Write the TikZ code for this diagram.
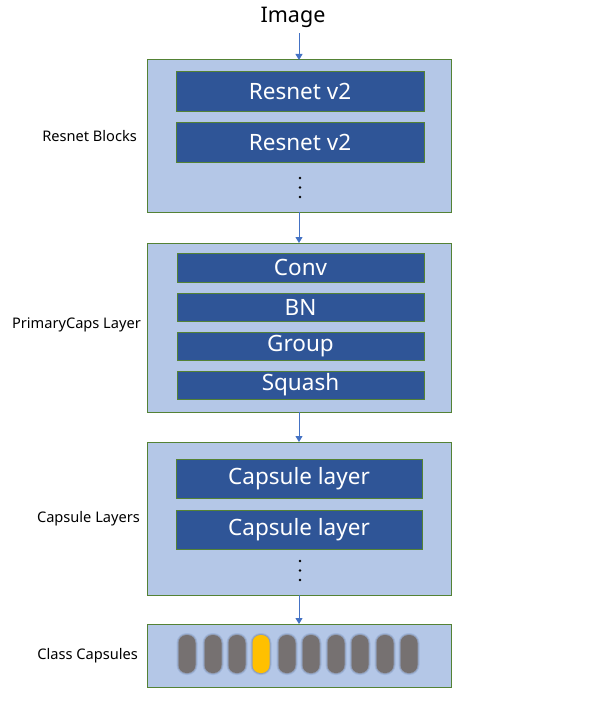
\documentclass[tikz,border=0pt]{standalone}
\usepackage{fontspec}
\setmainfont{Noto Sans}
\usetikzlibrary{arrows.meta}
\definecolor{outerfill}{HTML}{B4C7E7}
\definecolor{greenedge}{HTML}{548235}
\definecolor{innerfill}{HTML}{2F5597}
\definecolor{arrowblue}{HTML}{4472C4}
\definecolor{capgray}{HTML}{767171}
\definecolor{capyellow}{HTML}{FFC000}
\tikzset{
  x=1pt, y=-1pt,
  outerbox/.style={draw=greenedge, fill=outerfill, line width=1pt, minimum width=304pt, inner sep=0pt, outer sep=0pt},
  innerbox/.style={draw=greenedge, fill=innerfill, line width=0.8pt, inner sep=0pt, outer sep=0pt, text=white, font=\fontsize{22.5}{26}\selectfont},
  sidelabel/.style={anchor=east, font=\fontsize{14.6}{17}\selectfont, inner sep=0pt},
  flow/.style={draw=arrowblue, line width=0.9pt, -{Triangle[width=7pt,length=6pt]}},
  capsule/.style={rounded corners=8pt, inner sep=0pt, minimum width=17pt, minimum height=38pt},
  dotmark/.style={circle, fill=black, inner sep=0pt, minimum size=2.6pt}
}
\begin{document}
\begin{tikzpicture}
\useasboundingbox (0,0) rectangle (598,701);
% title
\node[font=\fontsize{21.5}{25}\selectfont, inner sep=0pt] (img) at (293,17) {Image};
% outer boxes
\node[outerbox, minimum height=152pt] (b1) at (299,136) {};
\node[outerbox, minimum height=169pt] (b2) at (299,327.5) {};
\node[outerbox, minimum height=153pt] (b3) at (299,518.5) {};
\node[outerbox, minimum height=63pt] (b4) at (299,655.5) {};
% side labels
\node[sidelabel] (l1) at (137,136) {Resnet Blocks};
\node[sidelabel] (l2) at (141,325) {PrimaryCaps Layer};
\node[sidelabel] (l3) at (140,519) {Capsule Layers};
\node[sidelabel] (l4) at (138,656) {Class Capsules};
% resnet blocks
\node[innerbox, minimum width=248pt, minimum height=40pt] (r1) at (300,91) {Resnet v2};
\node[innerbox, minimum width=248pt, minimum height=40pt] (r2) at (300,142) {Resnet v2};
\node[dotmark] (d11) at (300,178) {};
\node[dotmark] (d12) at (300,187.5) {};
\node[dotmark] (d13) at (300,197) {};
% primary caps
\node[innerbox, minimum width=247pt, minimum height=29pt] (p1) at (300.5,267.5) {Conv};
\node[innerbox, minimum width=247pt, minimum height=28pt] (p2) at (300.5,307) {BN};
\node[innerbox, minimum width=247pt, minimum height=28pt] (p3) at (300.5,346) {Group};
\node[innerbox, minimum width=247pt, minimum height=28pt] (p4) at (300.5,385) {Squash};
% capsule layers
\node[innerbox, minimum width=246pt, minimum height=39pt] (c1) at (299,478.5) {Capsule layer};
\node[innerbox, minimum width=246pt, minimum height=39pt] (c2) at (299,529.5) {Capsule layer};
\node[dotmark] (d21) at (300,561) {};
\node[dotmark] (d22) at (300,570.5) {};
\node[dotmark] (d23) at (300,580) {};
% class capsules (soft shadow + body)
\foreach \i/\cx in {1/187,2/213,3/237,4/261,5/287,6/311,7/336,8/360,9/385,10/409}{
  \node[capsule, minimum width=21pt, minimum height=42pt, rounded corners=10pt, fill=innerfill, opacity=0.15] (s\i) at (\cx,654) {};
  \node[capsule, minimum width=19pt, minimum height=40pt, rounded corners=9pt, fill=capgray, opacity=0.35] (t\i) at (\cx,654) {};
}
\foreach \i/\cx in {1/187,2/213,3/237,5/287,6/311,7/336,8/360,9/385,10/409}{
  \node[capsule, fill=capgray] (k\i) at (\cx,654) {};
}
\node[capsule, fill=capyellow] (k4) at (261,654) {};
% arrows
\draw[flow] (img.south -| b1.north) ++(0,6) coordinate (a0) (a0) -- (b1.north);
\draw[flow] (b1.south) -- (b2.north);
\draw[flow] (b2.south) -- (b3.north);
\draw[flow] (b3.south) -- (b4.north);
\end{tikzpicture}
\end{document}
